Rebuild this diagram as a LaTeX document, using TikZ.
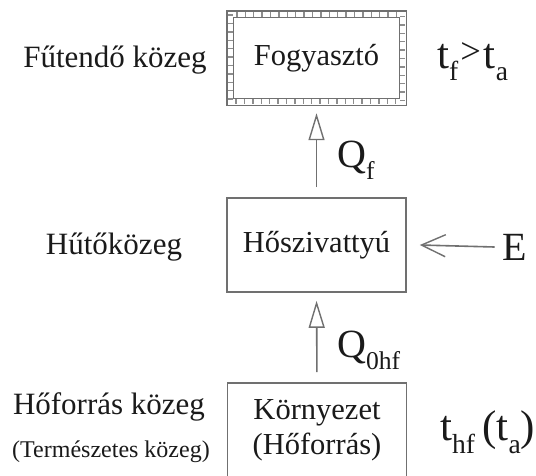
\documentclass[tikz,border=0pt]{standalone}
\usepackage{fontspec}
\setmainfont{Liberation Serif}
\usetikzlibrary{arrows.meta}
\newcommand\lowsub[1]{\raisebox{-0.3em}{\scalebox{0.64}{#1}}}
\definecolor{edge}{HTML}{707070}
\definecolor{ink}{HTML}{1A1A1A}
\begin{document}
\begin{tikzpicture}[x=1pt,y=-1pt,
  box/.style={minimum width=179pt,minimum height=94pt,inner sep=0pt,
    font=\fontsize{30.5}{35}\selectfont,text=ink,align=center},
  plainbox/.style={box,draw=edge,line width=1.6pt},
  lbl/.style={font=\fontsize{31}{35}\selectfont,text=ink,inner sep=0pt},
  small/.style={font=\fontsize{24}{28}\selectfont,text=ink,inner sep=0pt},
  qty/.style={font=\fontsize{40}{44}\selectfont,text=ink,inner sep=0pt},
  temp/.style={font=\fontsize{43}{47}\selectfont,text=ink,inner sep=0pt},
  flow/.style={draw=edge,line width=1.6pt,
    -{Triangle[open,length=27pt,width=16pt,line width=1.4pt]},
    shorten <=10pt,shorten >=8pt},
  feed/.style={draw=edge,line width=1.6pt,
    -{Straight Barb[length=24pt,width=22pt,line width=1.4pt]}}]
\useasboundingbox (0,0) rectangle (536,475);
\fill[white] (0,0) rectangle (536,475);

% consumer box with hatched double frame
\node[box] (fog) at (316.5,58) {Fogyasztó};
\draw[edge,line width=1.4pt] (fog.north west) rectangle (fog.south east);
\draw[edge!80,line width=4.5pt,dash pattern=on 1.4pt off 7pt]
  ([shift={(3.5,3.5)}]fog.north west) rectangle ([shift={(-3.5,-3.5)}]fog.south east);
\draw[edge,line width=1.2pt]
  ([shift={(7,7)}]fog.north west) rectangle ([shift={(-7,-7)}]fog.south east);

% heat pump and heat source
\node[plainbox] (hp) at (316.5,245) {Hőszivattyú};
\node[plainbox] (env) at (317,430) {Környezet\\(Hőforrás)};

% media labels on the left
\node[lbl] (fut) at (115,60) {Fűtendő közeg};
\node[lbl] (hut) at (114,247) {Hűtőközeg};
\node[lbl] (hof) at (109,407) {Hőforrás közeg};
\node[small] (ter) at (111,452) {(Természetes közeg)};

% temperatures on the right
\node[temp,anchor=west] (tf) at (437,62) {t\lowsub{f}\hspace{2pt}\raisebox{0.1em}{\scalebox{0.85}{>}}\hspace{3pt}t\lowsub{a}};
\node[temp,anchor=west] (thf) at (440,432) {t\lowsub{hf}\,(t\lowsub{a})};

% energy flows
\draw[flow] (hp.north) -- (fog.south);
\draw[flow] (env.north) -- (hp.south);
\node[qty,anchor=west] (qf) at (337,160) {Q\lowsub{f}};
\node[qty,anchor=west] (q0) at (337,350) {Q\lowsub{0hf}};
\node[qty] (e) at (515,247) {E};
\draw[feed] (e.west) ++(-8,0) coordinate (estart) (estart) -- ([xshift=13pt]hp.east);
\end{tikzpicture}
\end{document}
